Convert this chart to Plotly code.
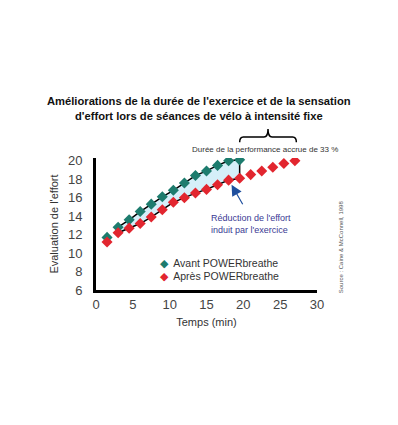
import plotly.graph_objects as go

# Data
avant_x = [1.5, 3, 4.5, 6, 7.5, 9, 10.5, 12, 13.5, 15, 16.5, 18, 19.5]
avant_y = [11.7, 12.8, 13.6, 14.5, 15.3, 16.1, 16.8, 17.6, 18.4, 18.9, 19.5, 20.0, 20.1]
apres_x = [1.5, 3, 4.5, 6, 7.5, 9, 10.5, 12, 13.5, 15, 16.5, 18, 19.5, 21, 22.5, 24, 25.5, 27]
apres_y = [11.2, 12.2, 12.7, 13.2, 13.9, 14.7, 15.5, 16.0, 16.5, 16.9, 17.4, 17.9, 18.1, 18.5, 18.9, 19.3, 19.7, 20.0]
x_ticks = [0, 5, 10, 15, 20, 25, 30]
y_ticks = [6, 8, 10, 12, 14, 16, 18, 20]
series_names = ["Avant POWERbreathe", "Après POWERbreathe"]

GREEN = "#1d7c6e"
RED = "#e2262f"
FONT = "Liberation Sans"

# band between curves from the 2nd point onward (common time range)
n = len(avant_x)
band_x = avant_x[1:] + apres_x[1:n][::-1]
band_y = avant_y[1:] + apres_y[1:n][::-1]

fig = go.Figure()
fig.add_trace(go.Scatter(
    x=band_x + [band_x[0]], y=band_y + [band_y[0]],
    mode="lines", fill="toself", fillcolor="#d5eff9",
    line=dict(color="black", width=1.5), showlegend=False, hoverinfo="skip"))
fig.add_trace(go.Scatter(
    x=avant_x, y=avant_y, mode="markers", name=series_names[0],
    marker=dict(symbol="diamond", size=8.5, color=GREEN)))
fig.add_trace(go.Scatter(
    x=apres_x, y=apres_y, mode="markers", name=series_names[1],
    marker=dict(symbol="diamond", size=8.5, color=RED)))

# page body has an 8px default margin: size/margins compensate for it
fig.update_layout(
    template="none",
    width=390, height=417,
    margin=dict(l=88, r=81, t=150, b=135, pad=0),
    paper_bgcolor="white", plot_bgcolor="white",
    font=dict(family=FONT, color="#333"),
    showlegend=False,
    xaxis=dict(range=[0, 30], tickvals=x_ticks, showgrid=False, zeroline=False,
               showline=True, linecolor="black", linewidth=3, ticks="", automargin=False,
               tickfont=dict(size=13, color="#444"),
               title=dict(text="Temps (min)", font=dict(size=11, color="#333"), standoff=8)),
    yaxis=dict(range=[6, 20.3], tickvals=y_ticks, showgrid=False, zeroline=False,
               showline=True, linecolor="black", linewidth=3, ticks="", automargin=False,
               ticklabelstandoff=8,
               tickfont=dict(size=13, color="#444"),
               title=dict(text="Evaluation de l'effort", font=dict(size=11, color="#333"), standoff=8)),
)

# Legend (as text annotations)
for name, color, ly in [(series_names[0], GREEN, 8.96), (series_names[1], RED, 7.52)]:
    fig.add_annotation(text=f"<span style='color:{color}'>◆</span>  {name}",
                       xref="x", yref="y", x=8.4, y=ly, xanchor="left", yanchor="middle",
                       showarrow=False, font=dict(size=10.5, color="#333"))

# Title
fig.add_annotation(
    text="<b>Améliorations de la durée de l'exercice et de la sensation<br>d'effort lors de séances de vélo à intensité fixe</b>",
    xref="paper", yref="paper", x=0.467, y=1.373, xanchor="center", yanchor="middle",
    showarrow=False, font=dict(family=FONT, size=11.2, color="#111"),
    align="center")

# Brace
fig.add_shape(type="path", xref="x", yref="paper",
              path="M 19.5,1.12 Q 19.5,1.16 20.0,1.16 L 22.8,1.16 Q 23.35,1.16 23.35,1.22 "
                   "Q 23.35,1.16 23.9,1.16 L 26.7,1.16 Q 27.2,1.16 27.2,1.12",
              line=dict(color="black", width=1.5))
fig.add_annotation(text="Durée de la performance accrue de 33 %", xref="x", yref="paper",
                   x=22.9, y=1.062, showarrow=False, xanchor="center", yanchor="middle",
                   font=dict(size=8, color="#333"))

# Arrow + annotation
fig.add_annotation(x=18.4, y=17.4, xref="x", yref="y", ax=12, ay=21,
                   showarrow=True, arrowhead=2, arrowsize=1.8, arrowwidth=1.2,
                   arrowcolor="#1f4f9e", text="")
fig.add_annotation(text="Réduction de l'effort<br>induit par l'exercice", xref="x", yref="y",
                   x=15.3, y=14.6, xanchor="left", yanchor="top", showarrow=False, align="left",
                   font=dict(size=9, color="#3a3a94"))

# Source
fig.add_annotation(text="Source : Caine & McConnell, 1998", xref="paper", yref="paper",
                   x=1.11, y=0.326, xanchor="center", yanchor="middle", textangle=-90,
                   showarrow=False, font=dict(size=6, color="#555"))

fig.write_html("out.html")
